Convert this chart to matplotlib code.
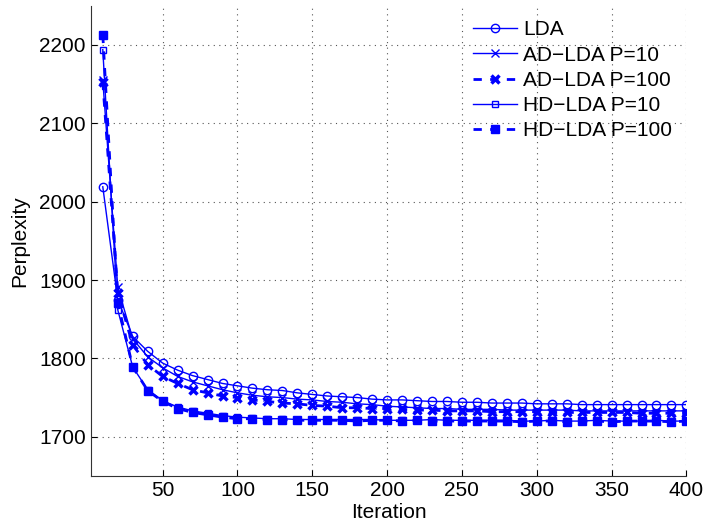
import numpy as np
import matplotlib
matplotlib.use('Agg')
import matplotlib.pyplot as plt

plt.rcParams['font.family'] = ['Liberation Sans', 'DejaVu Sans']

# Iterações (a cada 10)
iteracoes = np.arange(10, 401, 10)

lda = [2019, 1875, 1828, 1809, 1794, 1785, 1778, 1773, 1768, 1765,
       1762, 1760, 1759, 1756, 1754, 1752, 1751, 1750, 1748, 1747,
       1747, 1746, 1745, 1745, 1744, 1744, 1743, 1743, 1743, 1742,
       1742, 1742, 1741, 1741, 1741, 1741, 1741, 1741, 1741, 1741]

ad_lda_p10 = [2155, 1891, 1825, 1802, 1788, 1777, 1770, 1765, 1760, 1756,
              1753, 1751, 1750, 1748, 1747, 1745, 1744, 1742, 1741, 1739,
              1738, 1737, 1736, 1736, 1735, 1735, 1735, 1734, 1734, 1734,
              1734, 1734, 1733, 1733, 1733, 1733, 1733, 1733, 1733, 1733]

ad_lda_p100 = [2153, 1884, 1817, 1792, 1777, 1768, 1760, 1756, 1752, 1750,
               1747, 1745, 1743, 1742, 1740, 1739, 1737, 1737, 1736, 1736,
               1735, 1734, 1734, 1733, 1733, 1733, 1732, 1732, 1732, 1732,
               1731, 1731, 1731, 1731, 1731, 1731, 1730, 1730, 1730, 1730]

hd_lda_p10 = [2194, 1862, 1789, 1760, 1746, 1738, 1733, 1730, 1727, 1725,
              1724, 1723, 1723, 1722, 1722, 1722, 1722, 1722, 1722, 1721,
              1721, 1721, 1722, 1721, 1721, 1721, 1721, 1721, 1720, 1720,
              1721, 1720, 1720, 1721, 1720, 1720, 1720, 1721, 1720, 1720]

hd_lda_p100 = [2213, 1871, 1789, 1759, 1745, 1736, 1731, 1728, 1725, 1723,
               1723, 1722, 1722, 1721, 1721, 1721, 1721, 1720, 1721, 1721,
               1720, 1721, 1720, 1720, 1720, 1720, 1720, 1720, 1719, 1720,
               1720, 1719, 1720, 1720, 1719, 1720, 1720, 1720, 1719, 1720]

azul = '#0000ff'
tracejado = (0, (3, 3))

fig = plt.figure(figsize=(7.04, 5.23), dpi=100)
ax = fig.add_axes([0.129, 0.09, 0.846, 0.899])

ax.plot(iteracoes, lda, '-', color=azul, lw=1.0, marker='o', ms=6,
        mfc='none', mew=1.0, label='LDA')
ax.plot(iteracoes, ad_lda_p10, '-', color=azul, lw=1.0, marker='x', ms=6,
        mew=1.0, label='AD\u2212LDA P=10')
ax.plot(iteracoes, ad_lda_p100, linestyle=tracejado, color=azul, lw=2.0,
        marker='x', ms=6, mew=2.5, label='AD\u2212LDA P=100')
ax.plot(iteracoes, hd_lda_p10, '-', color=azul, lw=1.0, marker='s', ms=4,
        mfc='none', mew=1.0, label='HD\u2212LDA P=10')
ax.plot(iteracoes, hd_lda_p100, linestyle=tracejado, color=azul, lw=2.0,
        marker='s', ms=6, mfc=azul, mew=1.0, label='HD\u2212LDA P=100')

ax.set_xlim(2, 400)
ax.set_ylim(1650, 2250)
ax.set_xticks(np.arange(50, 401, 50))
ax.set_yticks(np.arange(1700, 2201, 100))
ax.tick_params(direction='in', length=4, labelsize=15, width=0.8)
for lado in ['left', 'bottom']:
    ax.spines[lado].set_color('#333333')
ax.spines['top'].set_visible(False)
ax.spines['right'].set_visible(False)
ax.grid(True, linestyle=(0, (1, 4)), color='#555555', linewidth=0.8)

ax.set_xlabel('Iteration', fontsize=15, labelpad=2)
ax.set_ylabel('Perplexity', fontsize=15, labelpad=7)

ax.legend(loc='upper right', frameon=False, fontsize=15, handlelength=2.1,
          handletextpad=0.3, labelspacing=0.3, borderaxespad=0.3,
          borderpad=0.4)

fig.savefig('out.png', dpi=100)
